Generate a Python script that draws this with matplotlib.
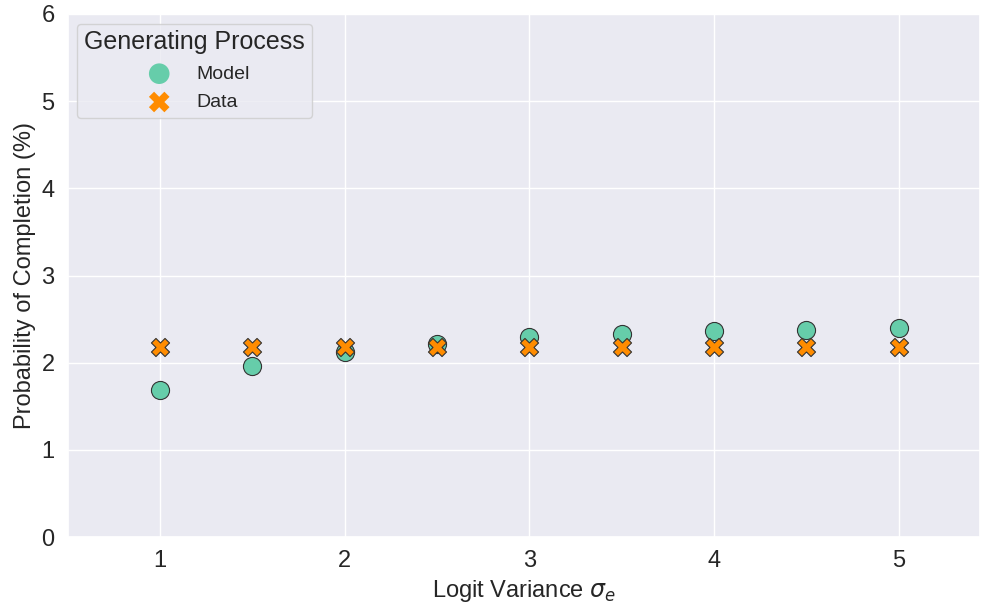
import numpy as np
import matplotlib.pyplot as plt
import seaborn as sns

sns.set_theme(style="darkgrid")
plt.rcParams['font.family'] = ['Liberation Sans', 'DejaVu Sans']
plt.rcParams['mathtext.fontset'] = 'dejavusans'

# logit variance values and completion probabilities (%)
sigma = [1.0, 1.5, 2.0, 2.5, 3.0, 3.5, 4.0, 4.5, 5.0]
model_prob = [1.69, 1.96, 2.12, 2.21, 2.29, 2.33, 2.36, 2.38, 2.40]
data_prob = [2.18, 2.18, 2.18, 2.18, 2.18, 2.18, 2.18, 2.18, 2.18]

fig, ax = plt.subplots(figsize=(9.82, 6.07), dpi=100)

ax.scatter(sigma, model_prob, s=170, marker='o', color='#66cdaa',
           edgecolor='#333333', linewidth=0.8, label='Model', zorder=3)
ax.scatter(sigma, data_prob, s=170, marker='X', color='#ff8c00',
           edgecolor='#333333', linewidth=0.8, label='Data', zorder=4)

ax.set_xlim(0.5, 5.44)
ax.set_ylim(0, 6)
ax.set_xticks([1, 2, 3, 4, 5])
ax.set_yticks([0, 1, 2, 3, 4, 5, 6])
ax.tick_params(labelsize=17)
ax.set_xlabel(r'Logit Variance $\sigma_e$', fontsize=17)
ax.set_ylabel('Probability of Completion (%)', fontsize=17)

leg = ax.legend(title='Generating Process', loc='upper left', fontsize=14,
                title_fontsize=18, markerscale=1.0, handletextpad=0.9,
                borderpad=0.35, labelspacing=0.55, borderaxespad=0.5)
for h in leg.legend_handles:
    h.set_edgecolor('none')
    h.set_sizes([220])

fig.subplots_adjust(left=0.069, right=0.998, top=0.977, bottom=0.115)
fig.savefig('out.png', dpi=100)
